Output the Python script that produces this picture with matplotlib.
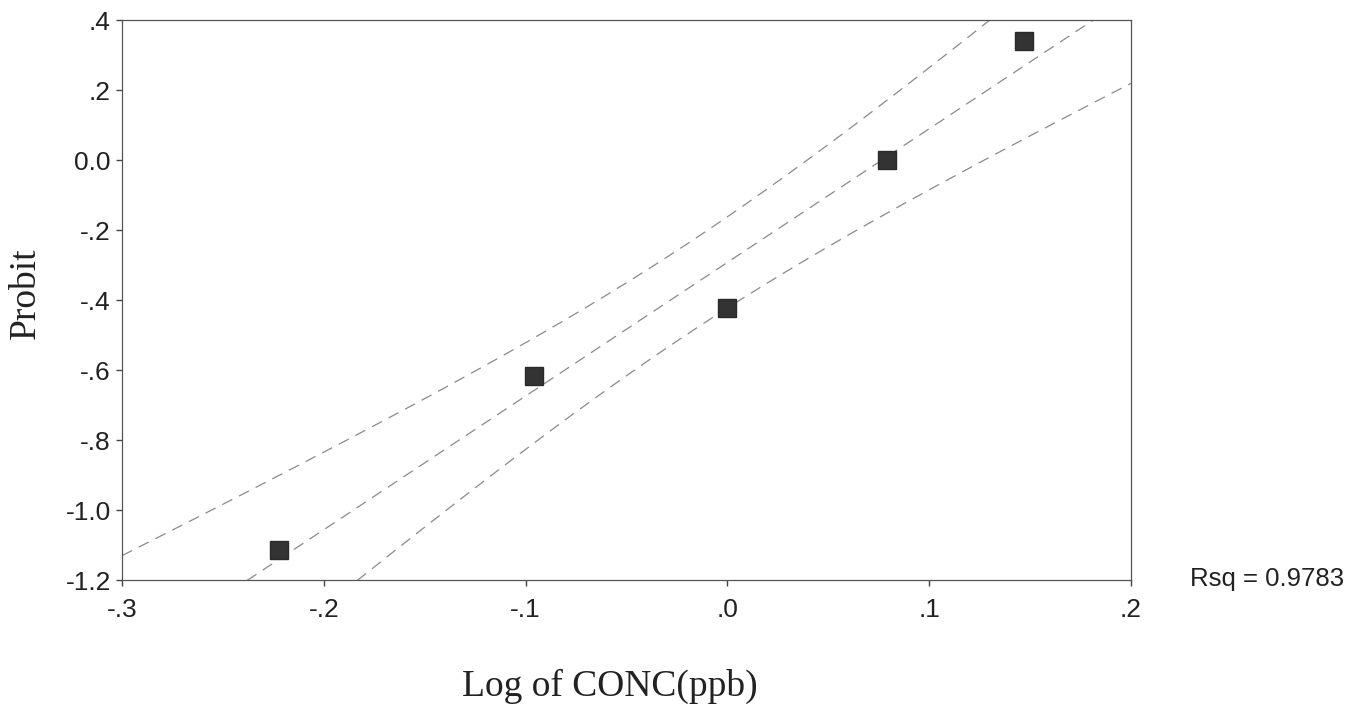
import numpy as np
import matplotlib
matplotlib.use("Agg")
import matplotlib.pyplot as plt

# Data
log_conc = [-0.222, -0.096, 0.0, 0.079, 0.147]
probit = [-1.115, -0.616, -0.423, 0.0, 0.34]
x_ticks = [-0.3, -0.2, -0.1, 0.0, 0.1, 0.2]
x_tick_labels = ["-.3", "-.2", "-.1", ".0", ".1", ".2"]
y_ticks = [0.4, 0.2, 0.0, -0.2, -0.4, -0.6, -0.8, -1.0, -1.2]
y_tick_labels = [".4", ".2", "0.0", "-.2", "-.4", "-.6", "-.8", "-1.0", "-1.2"]
rsq_text = "Rsq = 0.9783"

fig = plt.figure(figsize=(13.71, 7.09), dpi=100)
ax = fig.add_axes([122 / 1371, 1 - 580 / 709, 1009 / 1371, 560 / 709])

x = np.array(log_conc)
y = np.array(probit)
n = len(x)
b, a = np.polyfit(x, y, 1)
resid = y - (a + b * x)
s = np.sqrt(np.sum(resid ** 2) / (n - 2))
sxx = np.sum((x - x.mean()) ** 2)
t_crit = 3.182  # t(0.975, df=3)
xs = np.linspace(-0.3, 0.2, 200)
fit = a + b * xs
half = t_crit * s * np.sqrt(1 / n + (xs - x.mean()) ** 2 / sxx)

line_kw = dict(color="#8a8a8a", lw=0.9, linestyle=(0, (9, 6)))
ax.plot(xs, fit, **line_kw)
ax.plot(xs, fit + half, **line_kw)
ax.plot(xs, fit - half, **line_kw)

ax.plot(x, y, linestyle="none", marker="s", markersize=13.5,
        color="#333333", markeredgecolor="#2a2a2a", zorder=5)

ax.set_xlim(-0.3, 0.2)
ax.set_ylim(-1.2, 0.4)
ax.set_xticks(x_ticks)
ax.set_xticklabels(x_tick_labels)
ax.set_yticks(y_ticks)
ax.set_yticklabels(y_tick_labels)

for sp in ax.spines.values():
    sp.set_color("#555555")
    sp.set_linewidth(0.9)

ax.tick_params(axis="both", direction="out", length=4.5, width=1,
               color="#444444", labelsize=19, labelcolor="#222222",
               labelfontfamily="Liberation Sans")
ax.tick_params(axis="x", pad=8.5)
ax.tick_params(axis="y", pad=3.5)

ax.set_xlabel("Log of CONC(ppb)", fontsize=27, family="Liberation Serif",
              color="#222222")
ax.set_ylabel("Probit", fontsize=27, family="Liberation Serif",
              color="#222222")
ax.xaxis.set_label_coords((610 - 122) / 1009, -(686 - 580) / 560)
ax.yaxis.set_label_coords(-(122 - 26) / 1009, (580 - 293) / 560)
ax.xaxis.label.set_va("center")
ax.yaxis.label.set_va("center")

fig.text(1190 / 1371, 1 - 579 / 709, rsq_text, fontsize=18.5,
         family="Liberation Sans", color="#222222", va="center", ha="left")

fig.savefig("out.png", dpi=100, facecolor="white")
